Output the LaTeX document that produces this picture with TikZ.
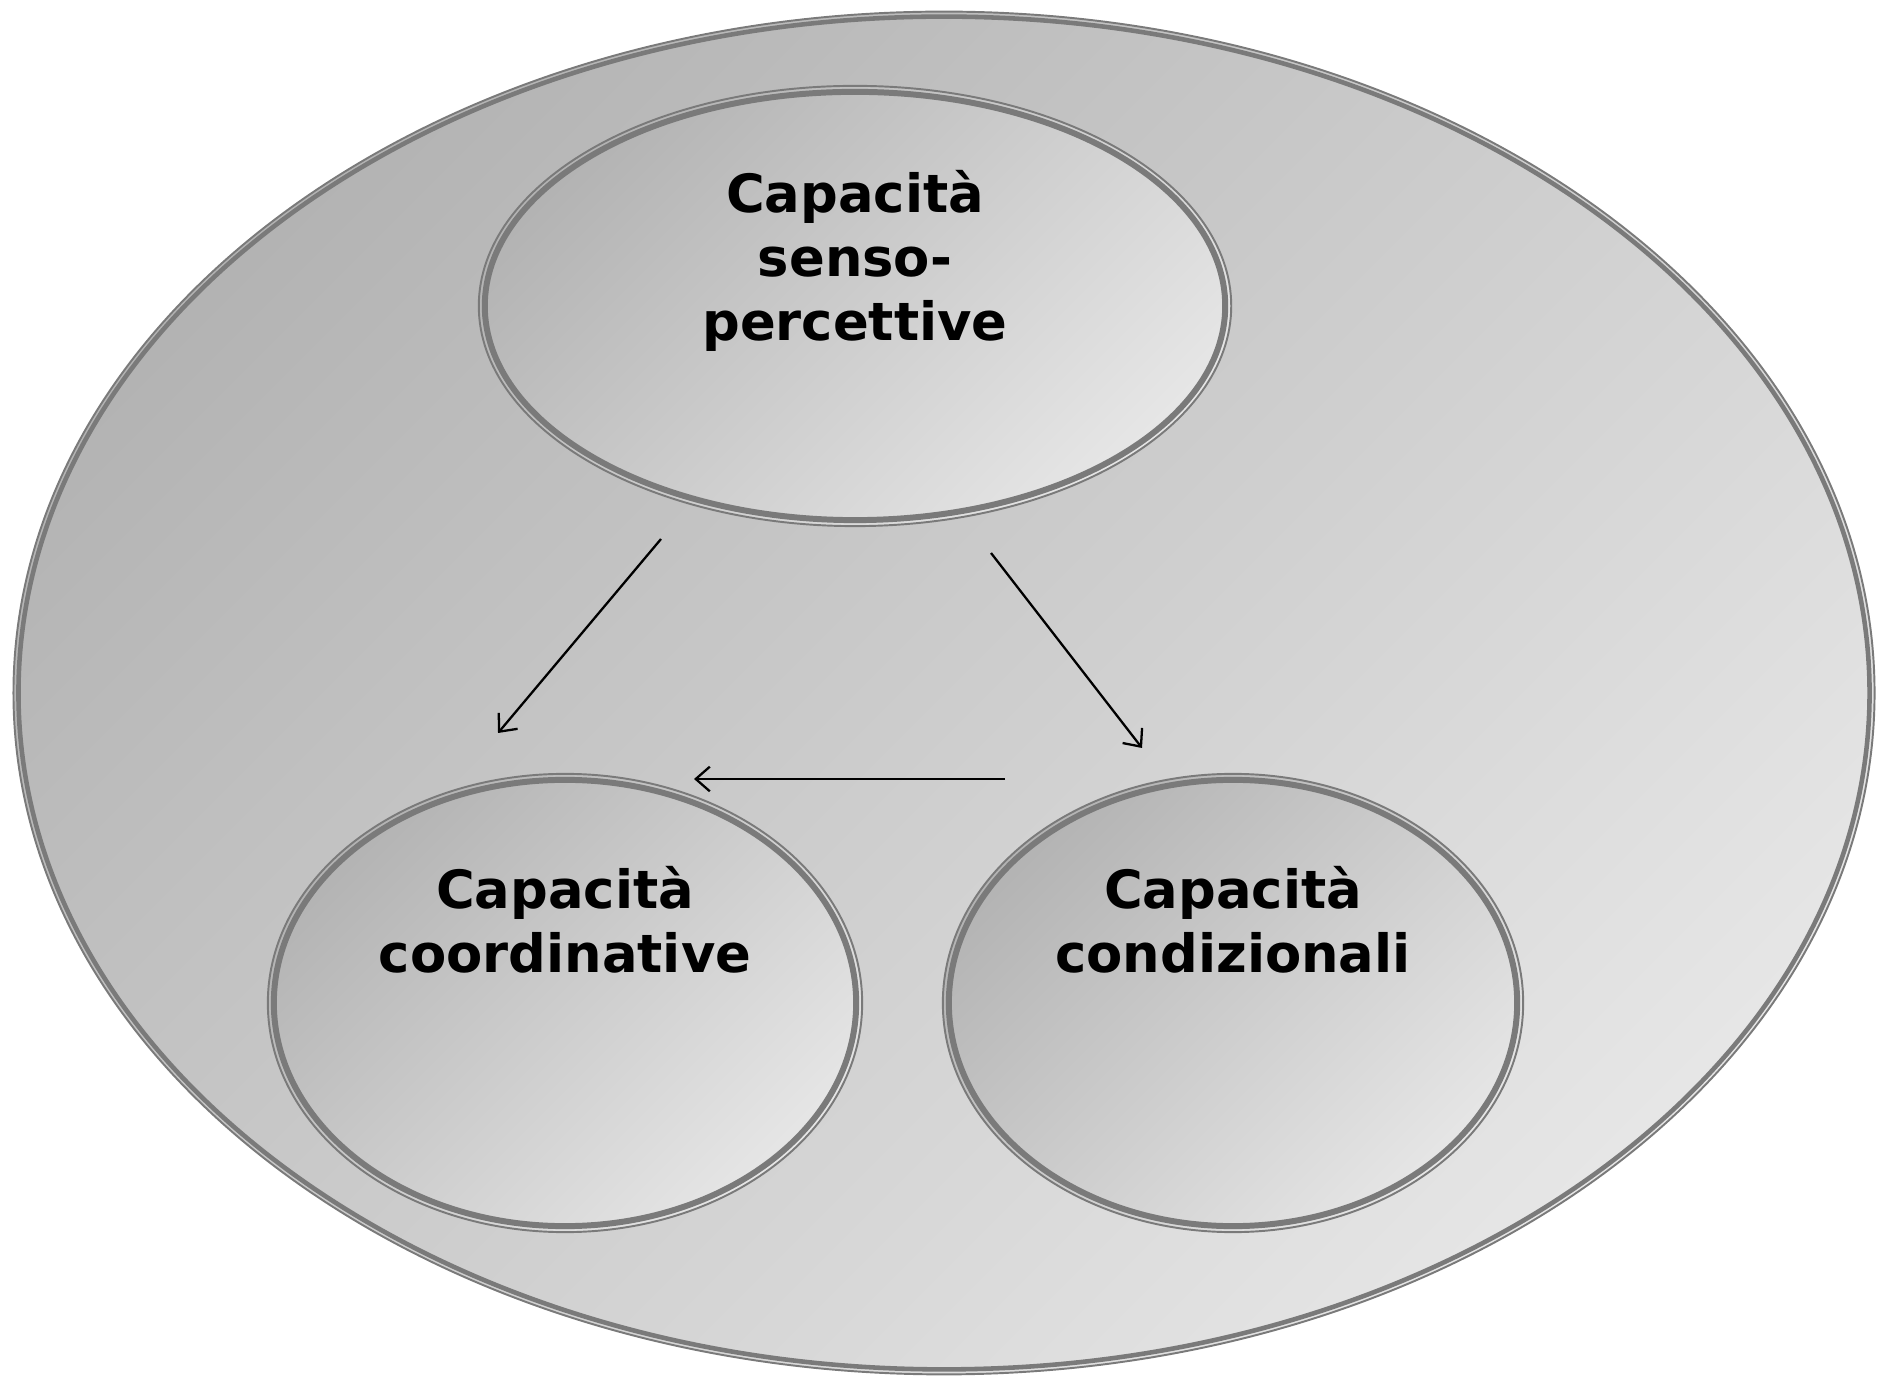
\documentclass[tikz,border=0pt]{standalone}
\usepackage{fontspec}
\setmainfont{DejaVu Sans}
\usetikzlibrary{shapes.geometric,arrows.meta}
\definecolor{rimgray}{HTML}{7A7A7A}
\definecolor{darkfill}{HTML}{B3B3B3}
\definecolor{lightfill}{HTML}{E6E6E6}
\tikzset{
  bubble/.style={ellipse, inner sep=0pt, draw=rimgray, line width=0.55pt, top color=darkfill, bottom color=lightfill, shading angle=45},
  rim/.style={ellipse, inner sep=0pt, draw=rimgray, line width=1.7pt},
  caption/.style={align=center, font=\fontsize{15}{18.2}\selectfont\bfseries},
  link/.style={-{Straight Barb[length=4pt,width=7pt]}, line width=0.65pt}
}
\begin{document}
\begin{tikzpicture}[x=0.01cm,y=0.01cm]
  \useasboundingbox (0,0) rectangle (1877,1379);

  \node[bubble, minimum width=18.6cm, minimum height=13.62cm] (campo) at (944,686) {};
  \node[rim, line width=1.3pt, minimum width=18.5cm, minimum height=13.52cm] at (campo) {};

  \node[bubble, minimum width=7.52cm, minimum height=4.40cm] (senso) at (855,1073) {};
  \node[rim, minimum width=7.40cm, minimum height=4.28cm] at (senso) {};
  \node[bubble, minimum width=5.94cm, minimum height=4.58cm] (coord) at (565,376) {};
  \node[rim, minimum width=5.82cm, minimum height=4.46cm] at (coord) {};
  \node[bubble, minimum width=5.80cm, minimum height=4.58cm] (cond) at (1233,376) {};
  \node[rim, minimum width=5.68cm, minimum height=4.46cm] at (cond) {};

  \node[caption] (sensotxt) at (855,1118) {Capacità\\senso-\\percettive};
  \node[caption] (coordtxt) at (565,459) {Capacità\\coordinative};
  \node[caption] (condtxt) at (1233,459) {Capacità\\condizionali};

  \coordinate (p1) at (661,840); \coordinate (q1) at (498,646);
  \coordinate (p2) at (991,826); \coordinate (q2) at (1142,631);
  \coordinate (p3) at (1005,600); \coordinate (q3) at (694,600);
  \draw[link] (p1) -- (q1);
  \draw[link] (p2) -- (q2);
  \draw[link] (p3) -- (q3);
\end{tikzpicture}
\end{document}
